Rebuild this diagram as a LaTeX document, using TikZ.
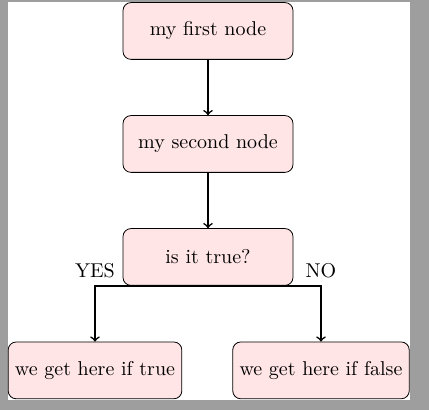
\documentclass[tikz,border=0pt]{standalone}
\usetikzlibrary{positioning}
\definecolor{framegray}{RGB}{158,158,158}
\begin{document}
\begin{tikzpicture}[x=1pt,y=1pt,
  box/.style={draw=black, fill=red!10, rounded corners=4pt, minimum width=85pt, minimum height=28.4pt, inner sep=3.4pt},
  conn/.style={->, thick}]
\fill[framegray] (0,0) rectangle (214.5,205);
\fill[white] (4,5) rectangle (205,204);
\useasboundingbox (0,0) rectangle (214.5,205);
\node[box] (first) at (104,189.5) {my first node};
\node[box] (second) at (104,133) {my second node};
\node[box] (dec) at (104,76.5) {is it true?};
\node[box] (t) at (47.5,19.8) {we get here if true};
\node[box] (f) at (160.5,19.8) {we get here if false};
\draw[conn] (first) -- (second);
\draw[conn] (second) -- (dec);
\draw[conn] (dec.south) -| node[above] {YES} (t.north);
\draw[conn] (dec.south) -| node[above] {NO} (f.north);
\end{tikzpicture}
\end{document}
